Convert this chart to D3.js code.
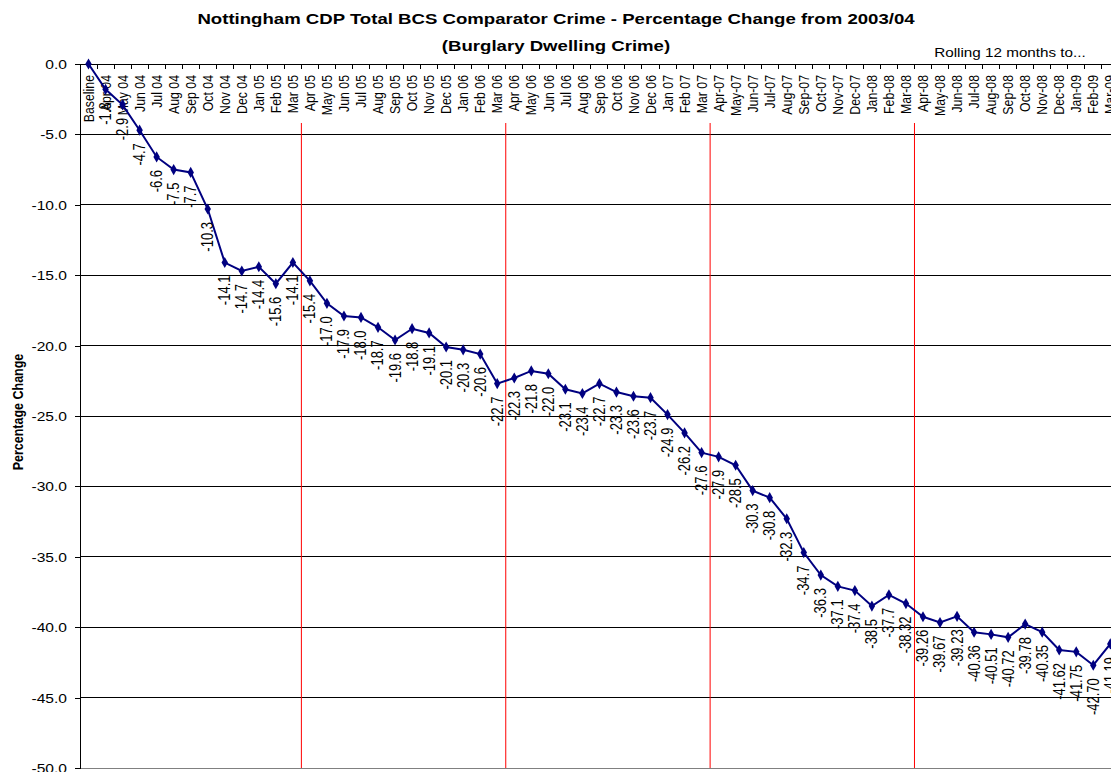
<!DOCTYPE html>
<html><head><meta charset="utf-8">
<script src="https://cdn.jsdelivr.net/npm/d3@7"></script>
<style>
html,body{margin:0;padding:0;background:#fff;}
svg{display:block;font-family:"Liberation Sans",Arial,sans-serif;}
</style></head>
<body><svg id="c" width="1111" height="772"></svg>
<script>
const categories = ["Baseline","Apr 04","May 04","Jun 04","Jul 04","Aug 04","Sep 04","Oct 04","Nov 04","Dec 04","Jan 05","Feb 05","Mar 05",
"Apr 05","May 05","Jun 05","Jul 05","Aug 05","Sep 05","Oct 05","Nov 05","Dec 05","Jan 06","Feb 06","Mar 06",
"Apr 06","May 06","Jun 06","Jul 06","Aug 06","Sep 06","Oct 06","Nov 06","Dec 06","Jan 07","Feb 07","Mar 07",
"Apr-07","May-07","Jun-07","Jul-07","Aug-07","Sep-07","Oct-07","Nov-07","Dec-07","Jan-08","Feb-08","Mar-08",
"Apr-08","May-08","Jun-08","Jul-08","Aug-08","Sep-08","Oct-08","Nov-08","Dec-08","Jan-09","Feb-09","Mar-09"];
const values = [0,-1.8,-2.9,-4.7,-6.6,-7.5,-7.7,-10.3,-14.1,-14.7,-14.4,-15.6,-14.1,
-15.4,-17.0,-17.9,-18.0,-18.7,-19.6,-18.8,-19.1,-20.1,-20.3,-20.6,-22.7,
-22.3,-21.8,-22.0,-23.1,-23.4,-22.7,-23.3,-23.6,-23.7,-24.9,-26.2,-27.6,
-27.9,-28.5,-30.3,-30.8,-32.3,-34.7,-36.3,-37.1,-37.4,-38.5,-37.7,-38.32,
-39.26,-39.67,-39.23,-40.36,-40.51,-40.72,-39.78,-40.35,-41.62,-41.75,-42.70,-41.19];
const valueLabels = ["","-1.8","-2.9","-4.7","-6.6","-7.5","-7.7","-10.3","-14.1","-14.7","-14.4","-15.6","-14.1",
"-15.4","-17.0","-17.9","-18.0","-18.7","-19.6","-18.8","-19.1","-20.1","-20.3","-20.6","-22.7",
"-22.3","-21.8","-22.0","-23.1","-23.4","-22.7","-23.3","-23.6","-23.7","-24.9","-26.2","-27.6",
"-27.9","-28.5","-30.3","-30.8","-32.3","-34.7","-36.3","-37.1","-37.4","-38.5","-37.7","-38.32",
"-39.26","-39.67","-39.23","-40.36","-40.51","-40.72","-39.78","-40.35","-41.62","-41.75","-42.70","-41.19"];
const yTicks = [0,-5,-10,-15,-20,-25,-30,-35,-40,-45,-50];
const yearEnds = ["Mar 05","Mar 06","Mar 07","Mar-08"];
const titleLines = ["Nottingham CDP Total BCS Comparator Crime - Percentage Change from 2003/04","(Burglary Dwelling Crime)"];
const yTitle = "Percentage Change";
const xNote = "Rolling 12 months to...";

const SX = 1.2; // horizontal stretch of the original rendering
const svg = d3.select("#c");
const pLeft = 80, pTop = 64, pBottom = 768, step = 17.03;
const x = d3.scaleBand().domain(categories).range([pLeft, pLeft + step*categories.length]).padding(0);
const y = d3.scaleLinear().domain([-50, 0]).range([pBottom, pTop]);
const cx = c => x(c) + x.bandwidth()/2;
const W = 1111;

// gridlines
svg.append("g").selectAll("line").data(yTicks.filter(t => t !== 0 && t !== -50)).join("line")
  .attr("x1", pLeft).attr("x2", W).attr("y1", d => y(d)).attr("y2", d => y(d))
  .attr("stroke", "#000").attr("stroke-width", 1).attr("shape-rendering","crispEdges");
// bottom border
svg.append("line").attr("x1", pLeft).attr("x2", W).attr("y1", y(-50)).attr("y2", y(-50))
  .attr("stroke", "#808080").attr("shape-rendering","crispEdges");

// y axis
const yAxis = d3.axisLeft(y).tickValues(yTicks).tickSize(5).tickPadding(7).tickFormat(d => d.toFixed(1));
const ya = svg.append("g").attr("transform", `translate(${pLeft},0)`).call(yAxis);
ya.select(".domain").attr("stroke","#000").attr("shape-rendering","crispEdges");
ya.selectAll(".tick line").attr("stroke","#000").attr("shape-rendering","crispEdges");
ya.selectAll(".tick text").attr("font-size", 13).attr("fill","#000")
  .attr("font-family","Liberation Sans, Arial, sans-serif")
  .attr("x", null)
  .attr("transform", `translate(-13,0) scale(${SX},1)`).attr("dy","0.35em").attr("text-anchor","end");

// x axis (top, at 0)
svg.append("line").attr("x1", pLeft).attr("x2", W).attr("y1", y(0)).attr("y2", y(0))
  .attr("stroke","#000").attr("shape-rendering","crispEdges");
svg.append("g").selectAll("line").data(categories).join("line")
  .attr("x1", d => x(d)).attr("x2", d => x(d)).attr("y1", y(0)).attr("y2", y(0)+5)
  .attr("stroke","#000").attr("shape-rendering","crispEdges");

// category labels
svg.append("g").selectAll("text").data(categories).join("text")
  .attr("transform", d => `translate(${cx(d)},${y(0)+11}) scale(${SX},1) rotate(-90)`)
  .attr("dy","0.35em").attr("text-anchor","end").attr("font-size", 12.3).attr("fill","#000")
  .text(d => d);

// year separators
svg.append("g").selectAll("line").data(yearEnds).join("line")
  .attr("x1", d => x(d) + x.bandwidth()).attr("x2", d => x(d) + x.bandwidth())
  .attr("y1", 123).attr("y2", pBottom)
  .attr("stroke","#ff0000").attr("stroke-width",1);

// line
const pts = categories.map((c,i) => ({c, v: values[i], l: valueLabels[i]}));
svg.append("path").datum(pts)
  .attr("d", d3.line().x(d => cx(d.c)).y(d => y(d.v)))
  .attr("fill","none").attr("stroke","#000080").attr("stroke-width",2);
svg.append("g").selectAll("path").data(pts).join("path")
  .attr("d", d3.symbol().type(d3.symbolDiamond).size(36))
  .attr("transform", d => `translate(${cx(d.c)},${y(d.v)})`)
  .attr("fill","#000080");

// data labels
svg.append("g").selectAll("text").data(pts).join("text")
  .attr("transform", d => `translate(${cx(d.c)},${y(d.v)+13}) scale(${SX},1) rotate(-90)`)
  .attr("dy","0.35em").attr("text-anchor","end").attr("font-size", 13).attr("fill","#000")
  .text(d => d.l);

// titles
svg.append("g").selectAll("text").data(titleLines).join("text")
  .attr("transform", (d,i) => `translate(556,${24 + i*27}) scale(${SX},1)`)
  .attr("text-anchor","middle").attr("font-weight","bold").attr("font-size", 15.5).attr("fill","#000")
  .text(d => d);

svg.append("text").attr("transform", `translate(1010,57) scale(${SX},1)`)
  .attr("text-anchor","middle").attr("font-size", 12.7).attr("fill","#000").text(xNote);

svg.append("text").attr("transform", `translate(18,412) scale(${SX},1) rotate(-90)`)
  .attr("dy","0.35em").attr("text-anchor","middle").attr("font-weight","bold").attr("font-size", 12.5).attr("fill","#000")
  .text(yTitle);
</script></body></html>
